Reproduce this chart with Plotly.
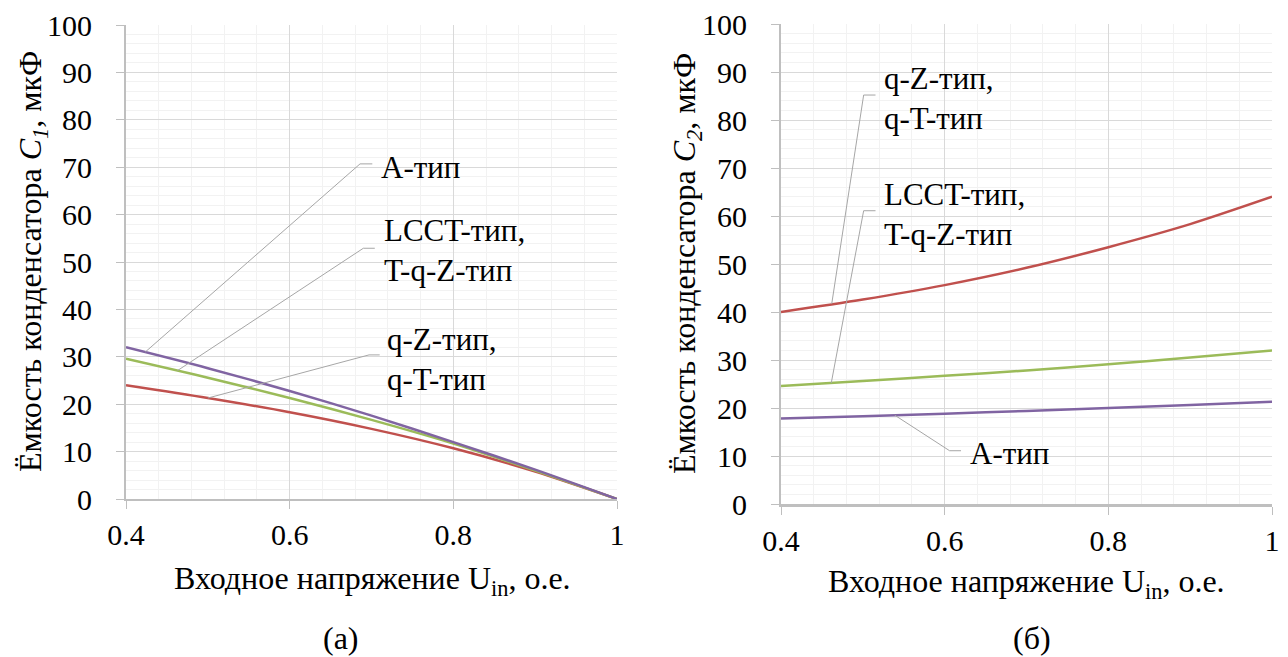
import plotly.graph_objects as go

# Input voltage, p.u.
u_in = [0.4, 0.5, 0.6, 0.7, 0.8, 0.9, 1.0]

# Capacitor C1, uF (panel a)
c1_qz = [24.0, 21.3, 18.3, 14.8, 10.7, 5.8, 0.0]
c1_lcct = [29.6, 25.6, 21.3, 16.7, 11.7, 6.0, 0.0]
c1_a = [32.0, 27.6, 22.8, 17.6, 12.0, 6.2, 0.0]

# Capacitor C2, uF (panel b)
c2_qz = [40.0, 42.6, 45.6, 49.2, 53.5, 58.3, 64.0]
c2_lcct = [24.6, 25.6, 26.7, 27.8, 29.1, 30.5, 32.0]
c2_a = [17.8, 18.3, 18.8, 19.4, 20.0, 20.6, 21.3]

x_ticks = [0.4, 0.6, 0.8, 1.0]
x_tick_text = ["0.4", "0.6", "0.8", "1"]
y_ticks = list(range(0, 101, 10))

RED = "#c0504d"
GREEN = "#9bbb59"
PURPLE = "#8064a2"
LEADER = "#a6a6a6"
FONT = "Liberation Serif, Times New Roman, serif"

fig = go.Figure()

for xa, ya, series in [
    ("x", "y", [(c1_qz, RED), (c1_lcct, GREEN), (c1_a, PURPLE)]),
    ("x2", "y2", [(c2_qz, RED), (c2_lcct, GREEN), (c2_a, PURPLE)]),
]:
    for vals, col in series:
        fig.add_trace(go.Scatter(
            x=u_in, y=vals, xaxis=xa, yaxis=ya, mode="lines",
            line=dict(color=col, width=2.5, shape="spline", smoothing=0.8),
            showlegend=False, hoverinfo="skip"))

# Callout labels: (axes, text, leader points [curve, elbow, end], text x, text y)
callouts = [
    ("x", "y", "А-тип", [(0.4235, 31.0), (0.686, 70.7), (0.701, 70.7)], 0.709, 70.0),
    ("x", "y", "LCCT-тип,<br>T-q-Z-тип", [(0.463, 27.1), (0.690, 52.9), (0.704, 52.9)], 0.713, 52.4),
    ("x", "y", "q-Z-тип,<br>q-T-тип", [(0.500, 21.3), (0.697, 30.4), (0.710, 30.4)], 0.717, 29.4),
    ("x2", "y2", "q-Z-тип,<br>q-T-тип", [(0.462, 41.7), (0.501, 85.2), (0.5155, 85.2)], 0.524, 84.5),
    ("x2", "y2", "LCCT-тип,<br>T-q-Z-тип", [(0.4614, 25.2), (0.501, 61.1), (0.5155, 61.1)], 0.524, 60.4),
    ("x2", "y2", "А-тип", [(0.539, 18.5), (0.606, 11.1), (0.620, 11.1)], 0.628, 10.5),
]
for xr, yr, text, pts, tx, ty in callouts:
    path = "M " + " L ".join(f"{px},{py}" for px, py in pts)
    fig.add_shape(type="path", path=path, xref=xr, yref=yr,
                  line=dict(color=LEADER, width=1))
    fig.add_annotation(x=tx, y=ty, xref=xr, yref=yr, text=text, showarrow=False,
                       xanchor="left", yanchor="middle", align="left",
                       font=dict(family=FONT, size=31, color="black"))

axis_common = dict(
    showline=True, linecolor="#bfbfbf", linewidth=2,
    gridcolor="#d9d9d9", gridwidth=1,
    ticks="outside", ticklen=8, tickcolor="#bfbfbf", tickwidth=1,
    tickfont=dict(family=FONT, size=30, color="black"),
    zeroline=False, automargin=False,
)

xaxis_cfg = dict(axis_common, range=[0.4, 1.0], tickvals=x_ticks, ticktext=x_tick_text,
                 ticklabelstandoff=0,
                 minor=dict(tick0=0.4, dtick=0.04, showgrid=True, gridcolor="#f2f2f2", ticklen=0))
yaxis_cfg = dict(axis_common, range=[0, 100], tickvals=y_ticks, ticklabelstandoff=18,
                 minor=dict(tick0=0, dtick=2, showgrid=True, gridcolor="#f2f2f2", ticklen=0))

fig.update_layout(
    width=1288, height=657,
    margin=dict(l=0, r=0, t=0, b=0),
    paper_bgcolor="white", plot_bgcolor="white",
    xaxis=dict(xaxis_cfg, domain=[126 / 1288, 617 / 1288], anchor="y"),
    yaxis=dict(yaxis_cfg, domain=[1 - 499 / 657, 1 - 25 / 657], anchor="x"),
    xaxis2=dict(xaxis_cfg, domain=[781 / 1288, 1272 / 1288], anchor="y2", linewidth=3),
    yaxis2=dict(yaxis_cfg, domain=[1 - 504 / 657, 1 - 24 / 657], anchor="x2"),
)

# Axis titles and panel captions
TITLE_FONT = dict(family=FONT, size=32, color="black")
x_title = "Входное напряжение U<sub>in</sub>, о.е."
fig.add_annotation(x=373 / 1288, y=1 - 580 / 657, xref="paper", yref="paper",
                   text=x_title, showarrow=False, xanchor="center", yanchor="middle",
                   font=TITLE_FONT)
fig.add_annotation(x=1026 / 1288, y=1 - 583 / 657, xref="paper", yref="paper",
                   text=x_title, showarrow=False, xanchor="center", yanchor="middle",
                   font=TITLE_FONT)
fig.add_annotation(x=32 / 1288, y=1 - 262 / 657, xref="paper", yref="paper",
                   text="Ёмкость конденсатора <i>C<sub>1</sub></i>, мкФ", textangle=-90,
                   showarrow=False, xanchor="center", yanchor="middle", font=TITLE_FONT)
fig.add_annotation(x=686 / 1288, y=1 - 264 / 657, xref="paper", yref="paper",
                   text="Ёмкость конденсатора <i>C<sub>2</sub></i>, мкФ", textangle=-90,
                   showarrow=False, xanchor="center", yanchor="middle", font=TITLE_FONT)
fig.add_annotation(x=341 / 1288, y=1 - 638 / 657, xref="paper", yref="paper",
                   text="(а)", showarrow=False, xanchor="center", yanchor="middle",
                   font=TITLE_FONT)
fig.add_annotation(x=1032 / 1288, y=1 - 638 / 657, xref="paper", yref="paper",
                   text="(б)", showarrow=False, xanchor="center", yanchor="middle",
                   font=TITLE_FONT)

fig.write_html("out.html")
